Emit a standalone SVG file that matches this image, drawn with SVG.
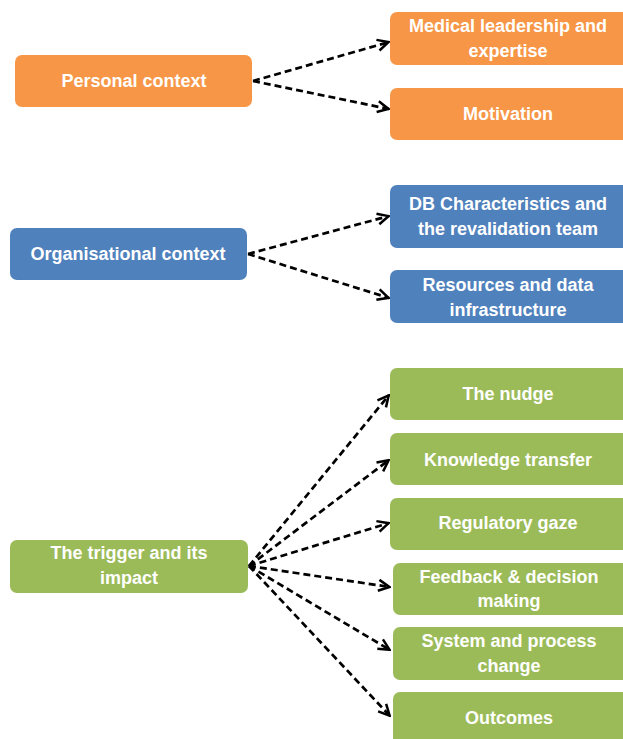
<svg xmlns="http://www.w3.org/2000/svg" width="623" height="739" viewBox="0 0 623 739">
<style>
.o{fill:#F79646}.b{fill:#4F81BD}.g{fill:#9BBB59}
text{font-family:"Liberation Sans",Arial,sans-serif;font-weight:bold;font-size:18px;fill:#fff;text-anchor:middle}
.c line{stroke:#000;stroke-width:2.7;stroke-dasharray:7,4;fill:none;marker-end:url(#ah)}
</style>
<defs>
<marker id="ah" viewBox="0 0 14 14" refX="13" refY="7" markerWidth="14" markerHeight="14" markerUnits="userSpaceOnUse" orient="auto">
<path d="M1.5,1.5 L12.5,7 L1.5,12.5" fill="none" stroke="#000" stroke-width="2.5"/>
</marker>
</defs>
<rect width="623" height="739" fill="#fff"/>
<g id="personal"><rect class="o" x="15" y="55" width="237" height="52" rx="7"/><text x="134" y="87">Personal context</text></g>
<g id="medical"><rect class="o" x="390" y="12" width="240" height="53" rx="7"/><text x="508" y="32">Medical leadership and</text><text x="508" y="57">expertise</text></g>
<g id="motivation"><rect class="o" x="390" y="88" width="240" height="52" rx="7"/><text x="508" y="120">Motivation</text></g>
<g id="organisational"><rect class="b" x="10" y="228" width="237" height="52" rx="7"/><text x="128" y="260">Organisational context</text></g>
<g id="db"><rect class="b" x="390" y="185" width="240" height="63" rx="7"/><text x="508" y="210">DB Characteristics and</text><text x="508" y="235">the revalidation team</text></g>
<g id="resources"><rect class="b" x="390" y="270" width="240" height="53" rx="7"/><text x="508" y="291">Resources and data</text><text x="508" y="316">infrastructure</text></g>
<g id="trigger"><rect class="g" x="10" y="540" width="238" height="53" rx="7"/><text x="129" y="559">The trigger and its</text><text x="129" y="584">impact</text></g>
<g id="nudge"><rect class="g" x="390" y="368" width="240" height="52" rx="7"/><text x="508" y="400">The nudge</text></g>
<g id="knowledge"><rect class="g" x="390" y="433" width="240" height="52" rx="7"/><text x="508" y="466">Knowledge transfer</text></g>
<g id="regulatory"><rect class="g" x="390" y="498" width="240" height="52" rx="7"/><text x="508" y="529">Regulatory gaze</text></g>
<g id="feedback"><rect class="g" x="393" y="563" width="240" height="52" rx="7"/><text x="509" y="583">Feedback &amp; decision</text><text x="509" y="607">making</text></g>
<g id="system"><rect class="g" x="393" y="627" width="240" height="53" rx="7"/><text x="509" y="647">System and process</text><text x="509" y="672">change</text></g>
<g id="outcomes"><rect class="g" x="393" y="692" width="240" height="55" rx="7"/><text x="509" y="724">Outcomes</text></g>
<g id="connectors" class="c">
<line x1="253" y1="81" x2="389" y2="42"/>
<line x1="253" y1="81" x2="389" y2="109"/>
<line x1="248" y1="254" x2="389" y2="216"/>
<line x1="248" y1="254" x2="389" y2="298"/>
<line x1="249" y1="566" x2="389" y2="395"/>
<line x1="249" y1="566" x2="389" y2="460"/>
<line x1="249" y1="566" x2="389" y2="523"/>
<line x1="249" y1="566" x2="390" y2="587"/>
<line x1="249" y1="566" x2="390" y2="650"/>
<line x1="249" y1="566" x2="390" y2="716"/>
</g>
</svg>
